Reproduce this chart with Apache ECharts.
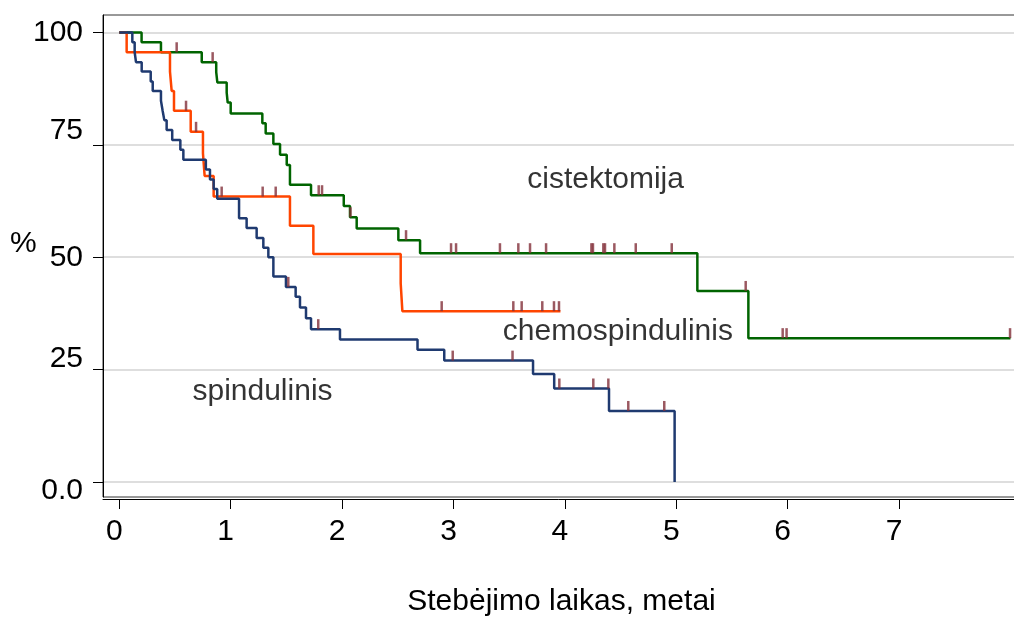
<!DOCTYPE html>
<html><head><meta charset="utf-8">
<script src="https://cdn.jsdelivr.net/npm/echarts@6/dist/echarts.min.js"></script>
<style>html,body{margin:0;padding:0;background:#fff}#c{width:1014px;height:622px}</style>
</head><body><div id="c"></div>
<script>
// ---- data (Kaplan-Meier curves) ----
const groupNames = ['cistektomija', 'chemospindulinis', 'spindulinis'];

const cisTimes = [0, 0.20, 0.374, 0.74, 0.87, 0.88, 0.964, 0.973, 1.00, 1.284, 1.314, 1.383, 1.443, 1.503, 1.532, 1.721, 2.015, 2.071, 2.131, 2.505, 2.70, 5.189, 5.647, 8.00];
const cisSurv  = [100, 97.8, 95.6, 93.4, 91.2, 88.9, 86.6, 84.4, 82.0, 79.8, 77.5, 75.2, 72.8, 70.5, 66.1, 63.8, 61.4, 58.9, 56.4, 53.8, 50.9, 42.5, 32.0, 32.0];
const cisCensor = [0.515, 0.838, 1.79, 1.82, 2.075, 2.574, 2.978, 3.023, 3.417, 3.582, 3.687, 3.831, 4.238, 4.252, 4.345, 4.36, 4.444, 4.636, 4.959, 5.623, 5.955, 5.99, 7.996];

const chemTimes = [0, 0.066, 0.455, 0.47, 0.491, 0.641, 0.751, 0.766, 0.847, 1.532, 1.742, 2.526, 2.541, 3.96];
const chemSurv  = [100, 95.6, 91.3, 87.0, 82.6, 77.9, 73.1, 68.1, 63.5, 57.0, 50.7, 44.2, 38.0, 38.0];
const chemCensor = [0.599, 0.689, 0.919, 1.287, 1.404, 2.894, 3.537, 3.612, 3.797, 3.902, 3.947];

const spinTimes = [0, 0.117, 0.138, 0.150, 0.201, 0.282, 0.300, 0.374, 0.389, 0.404, 0.425, 0.475, 0.548, 0.575, 0.777, 0.814, 0.847, 0.879, 1.075, 1.143, 1.233, 1.293, 1.338, 1.383, 1.496, 1.583, 1.622, 1.676, 1.721, 1.981, 2.677, 2.917, 3.714, 3.904, 4.396, 4.985];
const spinSurv  = [100, 97.8, 95.6, 93.4, 91.3, 89.1, 87.0, 84.8, 82.6, 80.5, 78.3, 76.1, 73.9, 71.7, 69.5, 67.3, 65.2, 63.0, 58.7, 56.5, 54.3, 52.1, 50.0, 45.7, 43.4, 41.2, 38.8, 36.4, 34.0, 31.7, 29.4, 27.0, 24.0, 20.8, 15.8, 0];
const spinCensor = [1.517, 1.786, 2.993, 3.53, 3.95, 4.255, 4.39, 4.569, 4.892];

const yTicks = [0, 25, 50, 75, 100];
const yTickLabels = ['0.0', '25', '50', '75', '100'];
const xTicks = [0, 1, 2, 3, 4, 5, 6, 7];
const annotPos = [[4.37, 67.2], [4.48, 33.4], [1.29, 20.0]];

// ---- build ----
const FONT = '"Liberation Sans", Arial, Helvetica, sans-serif';
const colors = ['#006400', '#FF4500', '#1F3A70'];
const censorColor = '#82303A';

function stepData(times, surv) { return times.map((t, i) => [t, surv[i]]); }
function censorData(times, surv, cens) {
  return cens.map(c => {
    let s = surv[0];
    for (let i = 0; i < times.length; i++) if (times[i] <= c) s = surv[i];
    return [c, s];
  });
}
const groups = [
  [cisTimes, cisSurv, cisCensor],
  [chemTimes, chemSurv, chemCensor],
  [spinTimes, spinSurv, spinCensor]
];

const series = [];
groups.forEach((g, k) => {
  series.push({
    type: 'line', name: groupNames[k], step: 'end', showSymbol: false, symbol: 'none',
    data: stepData(g[0], g[1]), z: 3 + k,
    lineStyle: { color: colors[k], width: 2.5 }, silent: true
  });
});
groups.forEach((g, k) => {
  series.push({
    type: 'scatter', symbol: 'rect', symbolSize: [2.5, 10], symbolOffset: [0, '-50%'],
    data: censorData(g[0], g[1], g[2]), z: 10,
    itemStyle: { color: censorColor }, silent: true
  });
});
series.push({
  type: 'scatter', symbolSize: 1, itemStyle: { color: 'rgba(0,0,0,0)' }, z: 12, silent: true,
  data: annotPos.map((p, i) => ({ value: p, name: groupNames[i] })),
  label: { show: true, position: [0, 0], align: 'center', verticalAlign: 'middle', formatter: '{b}', fontSize: 30, color: '#000', fontFamily: FONT }
});

const yMin = -3.34, yMax = 103.89;
const xMin = -0.1463, xMax = 8.211;
const rich = {
  l0: { fontSize: 30, fontFamily: FONT, color: '#000', padding: [18, 0, 0, 0] },
  l1: { fontSize: 30, fontFamily: FONT, color: '#000', padding: [0, 0, 22, 0] },
  l2: { fontSize: 30, fontFamily: FONT, color: '#000' },
  l3: { fontSize: 30, fontFamily: FONT, color: '#000', padding: [0, 0, 28, 0] },
  l4: { fontSize: 30, fontFamily: FONT, color: '#000' }
};

const chart = echarts.init(document.getElementById('c'), null, { renderer: 'canvas' });
chart.setOption({
  animation: false,
  backgroundColor: '#fff',
  textStyle: { fontFamily: FONT },
  grid: { left: 103, top: 15, right: -20, bottom: 125, show: true, borderColor: '#333', borderWidth: 1, containLabel: false, outerBoundsMode: 'none' },
  xAxis: {
    type: 'value', min: xMin, max: xMax, offset: 2,
    axisLine: { show: true, onZero: false, lineStyle: { color: '#000', width: 1 } },
    axisTick: { show: true, customValues: xTicks, length: 10, lineStyle: { color: '#000', width: 1 } },
    axisLabel: { customValues: xTicks, fontSize: 30, color: '#000', margin: 18, padding: [0, 10, 0, 0], fontFamily: FONT },
    splitLine: { show: false },
    name: 'Stebėjimo laikas, metai', nameLocation: 'middle', nameGap: 88,
    nameTextStyle: { fontSize: 30, color: '#000', fontFamily: FONT, padding: [0, 14, 0, 0] }
  },
  yAxis: {
    type: 'value', min: yMin, max: yMax,
    axisLine: { show: true, onZero: false, lineStyle: { color: '#000', width: 1 } },
    axisTick: { show: true, customValues: yTicks, length: 10, lineStyle: { color: '#000', width: 1 } },
    axisLabel: {
      customValues: yTicks, margin: 20, fontSize: 30, color: '#000', fontFamily: FONT,
      formatter: function (v) { const i = yTicks.indexOf(v); return '{l' + i + '|' + yTickLabels[i] + '}'; },
      rich: rich
    },
    splitLine: { show: true, lineStyle: { color: '#DEDEDE', width: 2 } }
  },
  graphic: [{ type: 'text', left: 10, top: 229, style: { text: '%', fontSize: 30, fill: '#000', fontFamily: FONT } }],
  series: series
});
</script></body></html>
